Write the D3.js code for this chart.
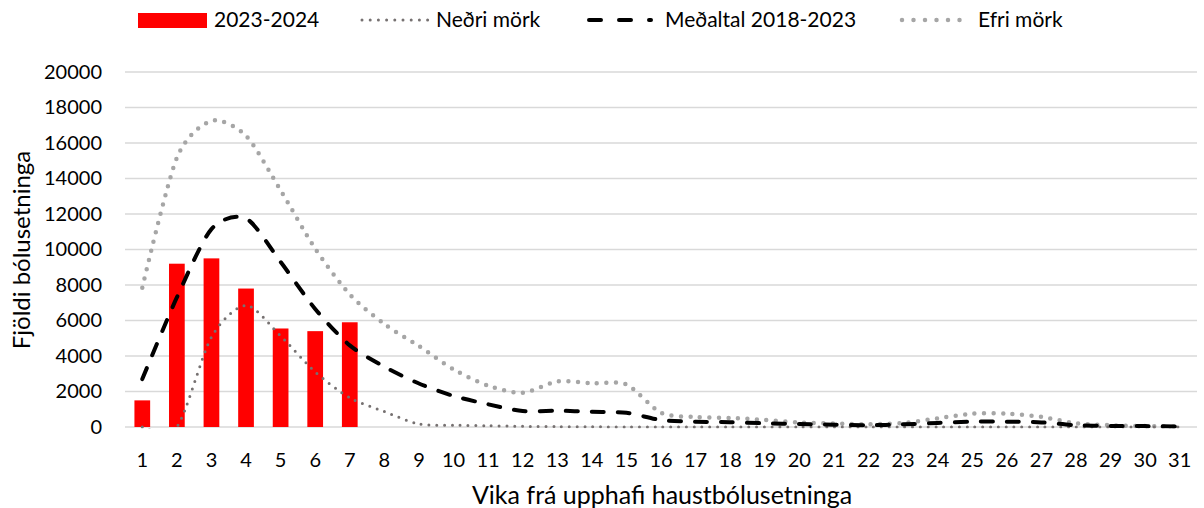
<!DOCTYPE html>
<html>
<head>
<meta charset="utf-8">
<script src="https://cdn.jsdelivr.net/npm/d3@7"></script>
<style>
  body { margin: 0; background: #fff; }
  text { font-family: Lato, "Open Sans", sans-serif; fill: #000; }
</style>
</head>
<body>
<div id="chart"></div>
<script>
// vikur (x flokkar)
var weeks = [1, 2, 3, 4, 5, 6, 7, 8, 9, 10, 11, 12, 13, 14, 15, 16, 17, 18, 19, 20, 21, 22, 23, 24, 25, 26, 27, 28, 29, 30, 31];
// 2023-2024 súlur (bara fyrstu 7 vikur)
var season2324 = [1500, 9200, 9500, 7800, 5550, 5400, 5900];
// Neðri mörk
var lower = [0, 0, 5070, 6850, 5130, 3100, 1650, 870, 170, 100, 70, 40, 20, 10, 0, 0, 0, 0, 0, 0, 0, 0, 0, 0, 0, 0, 0, 0, 0, 0, 0];
// Meðaltal 2018-2023
var mean = [2700, 7300, 11150, 11750, 9300, 6650, 4600, 3400, 2450, 1750, 1280, 900, 920, 860, 800, 390, 300, 270, 210, 170, 130, 100, 150, 230, 300, 300, 260, 100, 60, 50, 30];
// Efri mörk
var upper = [7850, 15170, 17250, 16400, 13330, 10050, 7470, 5800, 4560, 3250, 2330, 1930, 2570, 2460, 2400, 800, 560, 510, 400, 250, 190, 150, 225, 490, 750, 750, 570, 210, 100, 50, 30];
var yTicks = [0, 2000, 4000, 6000, 8000, 10000, 12000, 14000, 16000, 18000, 20000];

var W = 1204, H = 508;
var pLeft = 125, pRight = 1197, pTop = 72, pBottom = 427;

var svg = d3.select("#chart").append("svg")
   .attr("width", W)
   .attr("height", H);

var x = d3.scaleBand()
   .domain(weeks)
   .range([pLeft, pRight])
   .padding(0);

var y = d3.scaleLinear()
   .domain([0, 20000])
   .range([pBottom, pTop]);

// gridlines
svg.append("g")
   .selectAll("line")
   .data(yTicks)
   .enter()
   .append("line")
   .attr("x1", pLeft)
   .attr("x2", pRight)
   .attr("y1", function(d) { return y(d); })
   .attr("y2", function(d) { return y(d); })
   .attr("stroke", "#d9d9d9")
   .attr("stroke-width", 1.5);

// y ticks
var yAxis = svg.append("g")
   .attr("transform", "translate(" + (pLeft - 23) + ",0)")
   .call(d3.axisLeft(y).tickValues(yTicks).tickSize(0).tickPadding(0).tickFormat(d3.format("d")));
yAxis.select(".domain").remove();
yAxis.selectAll("text")
   .style("font-family", "Lato, sans-serif")
   .style("font-size", "20px")
   .attr("fill", "#000");

// x ticks
var xAxis = svg.append("g")
   .attr("transform", "translate(0," + (pBottom + 26) + ")")
   .call(d3.axisBottom(x).tickSize(0).tickPadding(0));
xAxis.select(".domain").remove();
xAxis.selectAll("text")
   .style("font-family", "Lato, sans-serif")
   .style("font-size", "20px")
   .attr("fill", "#000");

// bars
var barW = x.bandwidth() / 2.2;
svg.append("g")
   .selectAll("rect")
   .data(season2324)
   .enter()
   .append("rect")
   .attr("x", function(d, i) { return x(weeks[i]) + (x.bandwidth() - barW) / 2; })
   .attr("y", function(d) { return y(d); })
   .attr("width", barW)
   .attr("height", function(d) { return y(0) - y(d); })
   .attr("fill", "#ff0000");

// lines, clipped to plot area like Excel
svg.append("clipPath")
   .attr("id", "plotclip")
   .append("rect")
   .attr("x", pLeft - 5)
   .attr("y", pTop - 5)
   .attr("width", pRight - pLeft + 10)
   .attr("height", pBottom - pTop + 6.5);

var line = d3.line()
   .curve(d3.curveCardinal.tension(0.2))
   .x(function(d, i) { return x(weeks[i]) + x.bandwidth() / 2; })
   .y(function(d) { return y(d); });

var lines = svg.append("g").attr("clip-path", "url(#plotclip)");

lines.append("path")
   .attr("d", line(upper))
   .attr("fill", "none")
   .attr("stroke", "#a6a6a6")
   .attr("stroke-width", 4.5)
   .attr("stroke-linecap", "round")
   .attr("stroke-dasharray", "0,9.5");

lines.append("path")
   .attr("d", line(lower))
   .attr("fill", "none")
   .attr("stroke", "#767171")
   .attr("stroke-width", 3)
   .attr("stroke-linecap", "round")
   .attr("stroke-dasharray", "0,7.8");

lines.append("path")
   .attr("d", line(mean))
   .attr("fill", "none")
   .attr("stroke", "#000")
   .attr("stroke-width", 4)
   .attr("stroke-linecap", "round")
   .attr("stroke-dasharray", "12,14");

// axis titles
svg.append("text")
   .attr("x", 662)
   .attr("y", 504)
   .attr("text-anchor", "middle")
   .style("font-size", "25px")
   .text("Vika frá upphafi haustbólusetninga");

svg.append("text")
   .attr("transform", "translate(30,250) rotate(-90)")
   .attr("text-anchor", "middle")
   .style("font-size", "24px")
   .text("Fjöldi bólusetninga");

// legend
var legY = 20;
var legend = svg.append("g");

legend.append("rect")
   .attr("x", 138)
   .attr("y", 13)
   .attr("width", 69)
   .attr("height", 15)
   .attr("fill", "#ff0000");
legend.append("text")
   .attr("x", 214).attr("y", legY + 7)
   .style("font-size", "21px")
   .text("2023-2024");

legend.append("line")
   .attr("x1", 362).attr("x2", 428)
   .attr("y1", legY).attr("y2", legY)
   .attr("stroke", "#767171")
   .attr("stroke-width", 3)
   .attr("stroke-linecap", "round")
   .attr("stroke-dasharray", "0,8.2");
legend.append("text")
   .attr("x", 436).attr("y", legY + 7)
   .style("font-size", "21px")
   .text("Neðri mörk");

legend.append("line")
   .attr("x1", 589).attr("x2", 651)
   .attr("y1", legY).attr("y2", legY)
   .attr("stroke", "#000")
   .attr("stroke-width", 4)
   .attr("stroke-linecap", "round")
   .attr("stroke-dasharray", "12,18");
legend.append("text")
   .attr("x", 665).attr("y", legY + 7)
   .style("font-size", "21px")
   .text("Meðaltal 2018-2023");

legend.append("line")
   .attr("x1", 902).attr("x2", 971)
   .attr("y1", legY).attr("y2", legY)
   .attr("stroke", "#a6a6a6")
   .attr("stroke-width", 4.5)
   .attr("stroke-linecap", "round")
   .attr("stroke-dasharray", "0,11.5");
legend.append("text")
   .attr("x", 978).attr("y", legY + 7)
   .style("font-size", "21px")
   .text("Efri mörk");
</script>
</body>
</html>
